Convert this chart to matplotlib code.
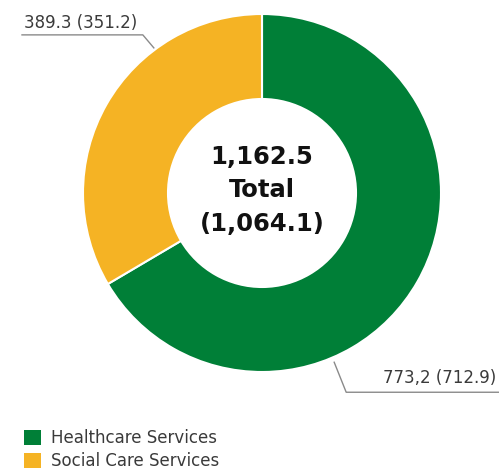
import matplotlib.pyplot as plt
import numpy as np
from matplotlib.patches import Patch

# spend by service, current year (previous year in brackets)
services = ["Healthcare Services", "Social Care Services"]
values = [773.2, 389.3]
value_labels = ["773,2 (712.9)", "389.3 (351.2)"]
colors = ["#007F37", "#F5B324"]
total_text = "1,162.5\nTotal\n(1,064.1)"

W, H = 499, 469
fig = plt.figure(figsize=(W / 100, H / 100), dpi=100)
ax = fig.add_axes([0, 0, 1, 1])
ax.set_xlim(0, W)
ax.set_ylim(0, H)
ax.set_aspect("equal")
ax.axis("off")

cx, cy, r = 262, H - 193, 179
wedges, _ = ax.pie(values, colors=colors, startangle=90, counterclock=False,
                   center=(cx, cy), radius=r, frame=True,
                   wedgeprops=dict(width=85, edgecolor="white", linewidth=1.5))
ax.set_xlim(0, W)
ax.set_ylim(0, H)
ax.axis("off")

ax.text(cx, cy + 3, total_text, ha="center", va="center", fontsize=17.5,
        fontweight="bold", color="#111111", linespacing=1.5)

txt = dict(fontsize=12, color="#3a3a3a")
line = dict(color="#8a8a8a", lw=1)

# healthcare label, bottom right
a = np.deg2rad(-66.9)
x0, y0 = cx + 184 * np.cos(a), cy + 184 * np.sin(a)
ax.plot([x0, x0 + 12, W], [y0, y0 - 30, y0 - 30], **line)
ax.text(W - 3, y0 - 25, value_labels[0], ha="right", va="bottom", **txt)

# social care label, top left
a = np.deg2rad(126.7)
x1, y1 = cx + 181 * np.cos(a), cy + 181 * np.sin(a)
ax.plot([x1, x1 - 11, 22], [y1, y1 + 13, y1 + 13], **line)
ax.text(24, y1 + 16, value_labels[1], ha="left", va="bottom", **txt)

handles = [Patch(facecolor=c, edgecolor="none") for c in colors]
fig.legend(handles, services, loc="lower left", bbox_to_anchor=(0.035, -0.017),
           frameon=False, fontsize=12, labelcolor="#3a3a3a",
           handlelength=1.0, handleheight=1.0, handletextpad=0.6,
           labelspacing=0.3, borderaxespad=0)

fig.savefig("out.png", dpi=100)
